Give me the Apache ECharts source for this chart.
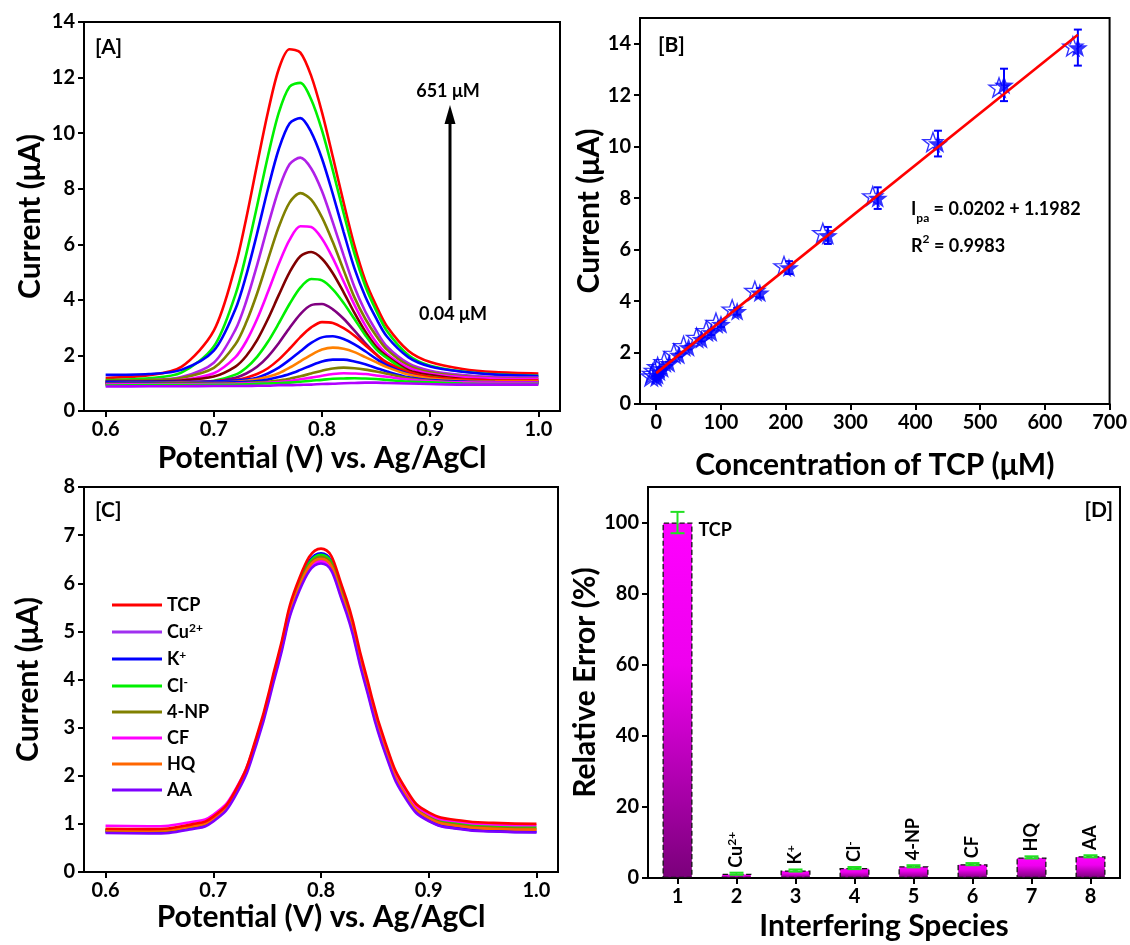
<!DOCTYPE html>
<html>
<head>
<meta charset="utf-8">
<title>TCP sensing</title>
<script src="https://cdn.jsdelivr.net/npm/echarts@6/dist/echarts.min.js"></script>
<style>
  html, body { margin: 0; padding: 0; background: #fff; }
  #main { width: 1130px; height: 945px; }
</style>
</head>
<body>
<div id="main"></div>
<script>
// ---- [A] DPV curves, 0.04 - 651 uM ----
var potA = [0.60, 0.64, 0.67, 0.70, 0.72, 0.73, 0.74, 0.75, 0.76, 0.77, 0.78, 0.79, 0.80, 0.81, 0.82, 0.83, 0.84, 0.85, 0.86, 0.88, 0.90, 0.93, 0.96, 1.00];
var a1  = [1.19, 1.29, 1.59, 2.89, 5.23, 6.94, 8.87, 10.75, 12.30, 13.02, 12.90, 12.06, 10.75, 9.15, 7.50, 5.95, 4.70, 3.80, 3.05, 2.16, 1.76, 1.51, 1.40, 1.35];
var a2  = [1.11, 1.18, 1.38, 2.32, 4.19, 5.65, 7.38, 9.17, 10.73, 11.67, 11.81, 11.21, 10.10, 8.66, 7.12, 5.66, 4.50, 3.62, 2.88, 2.01, 1.63, 1.42, 1.32, 1.27];
var a3  = [1.30, 1.33, 1.48, 2.17, 3.67, 4.89, 6.39, 7.99, 9.42, 10.35, 10.54, 10.04, 9.08, 7.81, 6.44, 5.13, 4.12, 3.34, 2.68, 1.93, 1.60, 1.41, 1.31, 1.26];
var a4  = [1.06, 1.11, 1.22, 1.74, 2.93, 3.95, 5.25, 6.66, 7.97, 8.88, 9.12, 8.73, 7.91, 6.79, 5.60, 4.46, 3.58, 2.89, 2.32, 1.71, 1.45, 1.29, 1.22, 1.20];
var a5  = [1.09, 1.11, 1.19, 1.55, 2.40, 3.19, 4.23, 5.44, 6.62, 7.50, 7.84, 7.61, 6.97, 6.08, 5.07, 4.09, 3.32, 2.71, 2.21, 1.64, 1.39, 1.25, 1.19, 1.16];
var a6  = [1.03, 1.05, 1.11, 1.36, 1.94, 2.51, 3.31, 4.28, 5.29, 6.16, 6.65, 6.62, 6.20, 5.50, 4.66, 3.82, 3.08, 2.48, 2.05, 1.56, 1.34, 1.22, 1.17, 1.15];
var a7  = [1.05, 1.06, 1.10, 1.24, 1.60, 1.98, 2.55, 3.31, 4.17, 4.99, 5.57, 5.72, 5.48, 4.96, 4.27, 3.53, 2.86, 2.32, 1.97, 1.47, 1.29, 1.15, 1.10, 1.08];
var a8  = [0.95, 0.97, 1.00, 1.09, 1.31, 1.56, 1.95, 2.49, 3.15, 3.85, 4.44, 4.75, 4.70, 4.38, 3.89, 3.31, 2.73, 2.23, 1.91, 1.40, 1.23, 1.12, 1.09, 1.07];
var a9  = [1.00, 1.01, 1.02, 1.07, 1.20, 1.35, 1.59, 1.96, 2.44, 2.99, 3.49, 3.81, 3.85, 3.66, 3.32, 2.89, 2.44, 2.04, 1.71, 1.35, 1.18, 1.09, 1.06, 1.04];
var a10 = [1.00, 1.01, 1.04, 1.07, 1.12, 1.20, 1.33, 1.54, 1.85, 2.24, 2.66, 3.01, 3.20, 3.17, 2.98, 2.71, 2.37, 2.04, 1.75, 1.40, 1.22, 1.13, 1.10, 1.10];
var a11 = [1.05, 1.05, 1.05, 1.06, 1.10, 1.13, 1.20, 1.35, 1.56, 1.84, 2.15, 2.45, 2.65, 2.69, 2.59, 2.40, 2.15, 1.88, 1.64, 1.33, 1.15, 1.06, 1.03, 1.01];
var a12 = [1.00, 1.01, 1.02, 1.03, 1.05, 1.09, 1.14, 1.23, 1.36, 1.56, 1.79, 2.02, 2.21, 2.28, 2.24, 2.12, 1.94, 1.76, 1.58, 1.31, 1.17, 1.09, 1.06, 1.06];
var a13 = [1.00, 1.00, 1.01, 1.02, 1.03, 1.05, 1.08, 1.13, 1.22, 1.33, 1.48, 1.64, 1.78, 1.85, 1.85, 1.78, 1.68, 1.55, 1.42, 1.21, 1.11, 1.06, 1.04, 1.03];
var a14 = [0.98, 0.98, 0.99, 0.99, 1.00, 1.01, 1.03, 1.05, 1.10, 1.16, 1.25, 1.35, 1.45, 1.53, 1.56, 1.54, 1.49, 1.42, 1.34, 1.18, 1.09, 1.03, 1.01, 1.00];
var a15 = [0.95, 0.96, 0.96, 0.97, 0.98, 0.99, 1.00, 1.02, 1.04, 1.08, 1.14, 1.20, 1.27, 1.33, 1.36, 1.35, 1.33, 1.28, 1.23, 1.13, 1.07, 1.03, 1.02, 1.02];
var a16 = [0.92, 0.93, 0.93, 0.94, 0.95, 0.96, 0.98, 0.99, 1.00, 1.02, 1.05, 1.09, 1.12, 1.16, 1.17, 1.18, 1.17, 1.15, 1.12, 1.06, 1.03, 0.99, 0.97, 0.98];
var a17 = [0.88, 0.89, 0.89, 0.90, 0.90, 0.90, 0.91, 0.91, 0.93, 0.93, 0.94, 0.95, 0.97, 0.98, 1.00, 1.01, 1.02, 1.02, 1.01, 0.99, 0.97, 0.95, 0.95, 0.95];
var colorsA = ['#ff0000', '#00f000', '#0000ff', '#b020e8', '#808000', '#ff00ff', '#800000', '#00f000', '#800080',
               '#ff0000', '#0000ff', '#ff8000', '#0000ff', '#808000', '#ff00ff', '#00f000', '#b000ff'];

// ---- [B] calibration ----
var concB     = [0.04, 2, 5, 10, 20, 35, 50, 70, 85, 100, 125, 160, 205, 265, 342, 435, 537, 651];
var curFilled = [1.02, 1.12, 1.25, 1.38, 1.58, 1.90, 2.20, 2.52, 2.78, 3.10, 3.60, 4.32, 5.30, 6.55, 8.00, 10.12, 12.40, 13.85];
var curOpen   = [1.08, 1.18, 1.30, 1.44, 1.64, 1.96, 2.26, 2.58, 2.84, 3.16, 3.68, 4.40, 5.36, 6.65, 8.08, 10.18, 12.30, 13.90];
var errB      = [0.05, 0.05, 0.05, 0.06, 0.06, 0.07, 0.08, 0.09, 0.10, 0.11, 0.13, 0.18, 0.25, 0.33, 0.42, 0.50, 0.63, 0.70];
var fitX = [0, 651];
var fitY = [1.20, 14.35];

// ---- [C] interference DPV ----
var potC = [0.60, 0.64, 0.68, 0.70, 0.72, 0.74, 0.76, 0.78, 0.80, 0.82, 0.84, 0.86, 0.88, 0.90, 0.93, 0.96, 1.00];
var namesC = ['TCP', 'Cu2+', 'K+', 'Cl-', '4-NP', 'CF', 'HQ', 'AA'];
var colorsC = ['#ff0000', '#a030f0', '#0000ff', '#00f000', '#808000', '#ff00ff', '#ff6600', '#7f00ff'];
var cTCP = [0.90, 0.89, 0.99, 1.15, 1.67, 2.80, 4.48, 6.11, 6.72, 5.91, 4.25, 2.67, 1.68, 1.24, 1.07, 1.02, 1.00];
var cCu  = [0.85, 0.84, 0.93, 1.09, 1.60, 2.71, 4.34, 5.92, 6.49, 5.67, 4.03, 2.48, 1.52, 1.09, 0.92, 0.87, 0.85];
var cK   = [0.83, 0.82, 0.92, 1.08, 1.60, 2.74, 4.42, 6.04, 6.62, 5.78, 4.10, 2.51, 1.52, 1.07, 0.90, 0.85, 0.83];
var cCl  = [0.88, 0.87, 0.96, 1.12, 1.64, 2.75, 4.40, 6.00, 6.59, 5.78, 4.14, 2.57, 1.60, 1.17, 1.00, 0.95, 0.93];
var cNP  = [0.86, 0.85, 0.94, 1.10, 1.62, 2.73, 4.37, 5.97, 6.55, 5.74, 4.10, 2.54, 1.57, 1.14, 0.97, 0.92, 0.90];
var cCF  = [0.96, 0.95, 1.04, 1.19, 1.69, 2.76, 4.35, 5.89, 6.45, 5.65, 4.06, 2.55, 1.62, 1.20, 1.04, 0.99, 0.97];
var cHQ  = [0.87, 0.86, 0.95, 1.11, 1.62, 2.73, 4.36, 5.94, 6.51, 5.70, 4.06, 2.51, 1.55, 1.12, 0.95, 0.90, 0.88];
var cAA  = [0.81, 0.80, 0.89, 1.05, 1.56, 2.65, 4.28, 5.85, 6.41, 5.61, 3.98, 2.44, 1.48, 1.06, 0.89, 0.84, 0.82];

// ---- [D] relative error ----
var speciesD = ['1', '2', '3', '4', '5', '6', '7', '8'];
var labelsD  = ['TCP', 'Cu2+', 'K+', 'Cl-', '4-NP', 'CF', 'HQ', 'AA'];
var relErr   = [100, 1.2, 2.1, 2.8, 3.3, 3.9, 5.8, 6.1];
var errD     = [3, 0.3, 0.3, 0.3, 0.3, 0.3, 0.3, 0.3];

// tick labels
var ticksPot  = [0.6, 0.7, 0.8, 0.9, 1.0];
var ticksCurA = [0, 2, 4, 6, 8, 10, 12, 14];
var ticksConc = [0, 100, 200, 300, 400, 500, 600, 700];
var ticksCurC = [0, 1, 2, 3, 4, 5, 6, 7, 8];
var ticksErr  = [0, 20, 40, 60, 80, 100];

var FONT = 'Lato, "Open Sans", "DejaVu Sans", sans-serif';
var STAR = 'path://M50,0L61.8,33.8L97.6,34.5L69,56.2L79.4,90.5L50,70L20.6,90.5L31,56.2L2.4,34.5L38.2,33.8Z';
var TITLE = 30, TICK = 20;

var myChart = echarts.init(document.getElementById('main'));

function pairs(xs, ys) {
  return xs.map(function (x, i) { return [x, ys[i]]; });
}

// superscripts for ion names
function richName(n) {
  if (n === 'Cu2+') return '{b|Cu}{s|2+}';
  if (n === 'K+') return '{b|K}{s|+}';
  if (n === 'Cl-') return '{b|Cl}{s|-}';
  return '{b|' + n + '}';
}
var richSup = {
  b: { fontSize: 18, fontWeight: 'bold', fontFamily: FONT, color: '#000', lineHeight: 20 },
  s: { fontSize: 12, fontWeight: 'bold', fontFamily: FONT, color: '#000', lineHeight: 12, verticalAlign: 'top' }
};

function valAxis(gi, min, max, ticks, name, gap, fmt) {
  return {
    type: 'value', gridIndex: gi, min: min, max: max,
    name: name, nameLocation: 'middle', nameGap: gap,
    nameTextStyle: { color: '#000', fontSize: TITLE, fontWeight: 'bold', fontFamily: FONT },
    axisLine: { show: true, onZero: false, lineStyle: { color: '#000', width: 2 } },
    axisTick: { show: true, length: 6, customValues: ticks, lineStyle: { color: '#000', width: 2 } },
    axisLabel: { customValues: ticks, formatter: fmt, color: '#000', fontSize: TICK, fontWeight: 'bold', fontFamily: FONT, margin: 9 },
    splitLine: { show: false }
  };
}

function errRender(color, hw) {
  return function (params, api) {
    var x = api.value(0);
    var lo = api.coord([x, api.value(1)]);
    var hi = api.coord([x, api.value(2)]);
    var st = { stroke: color, lineWidth: 2 };
    return {
      type: 'group',
      children: [
        { type: 'line', shape: { x1: hi[0], y1: hi[1], x2: lo[0], y2: lo[1] }, style: st },
        { type: 'line', shape: { x1: hi[0] - hw, y1: hi[1], x2: hi[0] + hw, y2: hi[1] }, style: st },
        { type: 'line', shape: { x1: lo[0] - hw, y1: lo[1], x2: lo[0] + hw, y2: lo[1] }, style: st }
      ]
    };
  };
}

var series = [];

// [A]
[a1, a2, a3, a4, a5, a6, a7, a8, a9, a10, a11, a12, a13, a14, a15, a16, a17].forEach(function (ys, i) {
  series.push({
    type: 'line', xAxisIndex: 0, yAxisIndex: 0, data: pairs(potA, ys),
    symbol: 'none', smooth: 0.3, silent: true,
    lineStyle: { color: colorsA[i], width: 2.6 }, itemStyle: { color: colorsA[i] }
  });
});

// [B]
series.push({
  type: 'scatter', xAxisIndex: 1, yAxisIndex: 1, data: pairs(concB, curOpen),
  symbol: STAR, symbolSize: 20, symbolKeepAspect: true, symbolOffset: [-5, 0],
  itemStyle: { color: 'rgba(255,255,255,0)', borderColor: '#0000ff', borderWidth: 1.4 }, z: 3
});
series.push({
  type: 'scatter', xAxisIndex: 1, yAxisIndex: 1, data: pairs(concB, curFilled),
  symbol: STAR, symbolSize: 20, symbolKeepAspect: true,
  itemStyle: { color: '#0000ff' }, z: 4
});
series.push({
  type: 'custom', xAxisIndex: 1, yAxisIndex: 1, z: 5,
  data: concB.map(function (c, i) { return [c, curFilled[i] - errB[i], curFilled[i] + errB[i]]; }),
  renderItem: errRender('#0000ff', 4)
});
series.push({
  type: 'line', xAxisIndex: 1, yAxisIndex: 1, data: pairs(fitX, fitY),
  symbol: 'none', lineStyle: { color: '#ff0000', width: 2.6 }, z: 6
});

// [C]
[cTCP, cCu, cK, cCl, cNP, cCF, cHQ, cAA].forEach(function (ys, i) {
  series.push({
    name: namesC[i], type: 'line', xAxisIndex: 2, yAxisIndex: 2, data: pairs(potC, ys),
    symbol: 'none', smooth: 0.5,
    lineStyle: { color: colorsC[i], width: 2.6 }, itemStyle: { color: colorsC[i] },
    z: i === 0 ? 3 : 2
  });
});

// [D]
series.push({
  type: 'bar', xAxisIndex: 3, yAxisIndex: 3, barWidth: 30,
  data: relErr.map(function (v, i) {
    if (i === 0) {
      return { value: v, label: { rotate: 0, position: [36, -2], align: 'left', verticalAlign: 'top' } };
    }
    return v;
  }),
  itemStyle: {
    color: new echarts.graphic.LinearGradient(0, 0, 0, 1, [
      { offset: 0, color: '#ff00ff' },
      { offset: 0.4, color: '#ee00ee' },
      { offset: 1, color: '#7a007a' }
    ]),
    borderColor: '#111', borderWidth: 1.3, borderType: 'dashed'
  },
  label: {
    show: true, position: 'top', rotate: 90, align: 'left', verticalAlign: 'middle', distance: 6,
    formatter: function (p) { return richName(labelsD[p.dataIndex]); },
    rich: richSup
  }
});
series.push({
  type: 'custom', xAxisIndex: 3, yAxisIndex: 3, z: 5,
  data: relErr.map(function (v, i) { return [i, v - errD[i], v + errD[i]]; }),
  renderItem: errRender('#22e022', 7)
});

var txt = function (s, x, y, size, align) {
  return {
    type: 'text', x: x, y: y, silent: true,
    style: { text: s, fill: '#000', font: 'bold ' + size + 'px ' + FONT, align: align || 'left', verticalAlign: 'middle' }
  };
};

var option = {
  animation: false,
  backgroundColor: '#fff',
  grid: [
    { left: 84, top: 22, width: 476, height: 389, show: true, borderColor: '#000', borderWidth: 2 },
    { left: 640, top: 18, width: 472, height: 386, show: true, borderColor: '#000', borderWidth: 2 },
    { left: 84, top: 487, width: 474, height: 385, show: true, borderColor: '#000', borderWidth: 2 },
    { left: 648, top: 487, width: 472, height: 391, show: true, borderColor: '#000', borderWidth: 2 }
  ],
  xAxis: [
    valAxis(0, 0.58, 1.02, ticksPot, 'Potential (V) vs. Ag/AgCl', 32, function (v) { return v.toFixed(1); }),
    valAxis(1, -25, 700, ticksConc, 'Concentration of TCP (\u03bcM)', 46),
    valAxis(2, 0.58, 1.02, ticksPot, 'Potential (V) vs. Ag/AgCl', 25, function (v) { return v.toFixed(1); }),
    {
      type: 'category', gridIndex: 3, data: speciesD,
      name: 'Interfering Species', nameLocation: 'middle', nameGap: 33,
      nameTextStyle: { color: '#000', fontSize: TITLE, fontWeight: 'bold', fontFamily: FONT },
      axisLine: { show: true, onZero: false, lineStyle: { color: '#000', width: 2 } },
      axisTick: { show: true, length: 6, alignWithLabel: true, lineStyle: { color: '#000', width: 2 } },
      axisLabel: { color: '#000', fontSize: TICK, fontWeight: 'bold', fontFamily: FONT, margin: 9 },
      splitLine: { show: false }
    }
  ],
  yAxis: [
    valAxis(0, 0, 14, ticksCurA, 'Current (\u03bcA)', 39),
    valAxis(1, 0, 15, ticksCurA, 'Current (\u03bcA)', 35),
    valAxis(2, 0, 8, ticksCurC, 'Current (\u03bcA)', 41),
    valAxis(3, 0, 110, ticksErr, 'Relative Error (%)', 43)
  ],
  legend: {
    data: namesC, orient: 'vertical', left: 112, top: 596, padding: 0,
    itemWidth: 50, itemHeight: 3, itemGap: 8, icon: 'rect', selectedMode: false,
    formatter: richName,
    textStyle: { rich: richSup }
  },
  graphic: [
    txt('[A]', 95, 47, 21),
    txt('[B]', 658, 45, 21),
    txt('[C]', 95, 510, 21),
    txt('[D]', 1113, 510, 21, 'right'),
    txt('651 \u03bcM', 448, 91, 18, 'center'),
    txt('0.04 \u03bcM', 453, 314, 18, 'center'),
    { type: 'line', silent: true, shape: { x1: 450, y1: 300, x2: 450, y2: 118 }, style: { stroke: '#000', lineWidth: 3 } },
    { type: 'polygon', silent: true, shape: { points: [[450, 105], [444.5, 124], [455.5, 124]] }, style: { fill: '#000' } },
    {
      type: 'text', x: 911, y: 212, silent: true,
      style: {
        text: '{n|I}{sub|pa}{n| = 0.0202 + 1.1982}', verticalAlign: 'middle',
        rich: {
          n: { fontSize: 18, fontWeight: 'bold', fontFamily: FONT, fill: '#000', lineHeight: 24, verticalAlign: 'top' },
          sub: { fontSize: 12, fontWeight: 'bold', fontFamily: FONT, fill: '#000', lineHeight: 14, verticalAlign: 'bottom' }
        }
      }
    },
    {
      type: 'text', x: 911, y: 244, silent: true,
      style: {
        text: '{n|R}{sup|2}{n| = 0.9983}', verticalAlign: 'middle',
        rich: {
          n: { fontSize: 18, fontWeight: 'bold', fontFamily: FONT, fill: '#000', lineHeight: 22, verticalAlign: 'bottom' },
          sup: { fontSize: 12, fontWeight: 'bold', fontFamily: FONT, fill: '#000', lineHeight: 12, verticalAlign: 'top' }
        }
      }
    }
  ],
  series: series
};

myChart.setOption(option);
</script>
</body>
</html>
